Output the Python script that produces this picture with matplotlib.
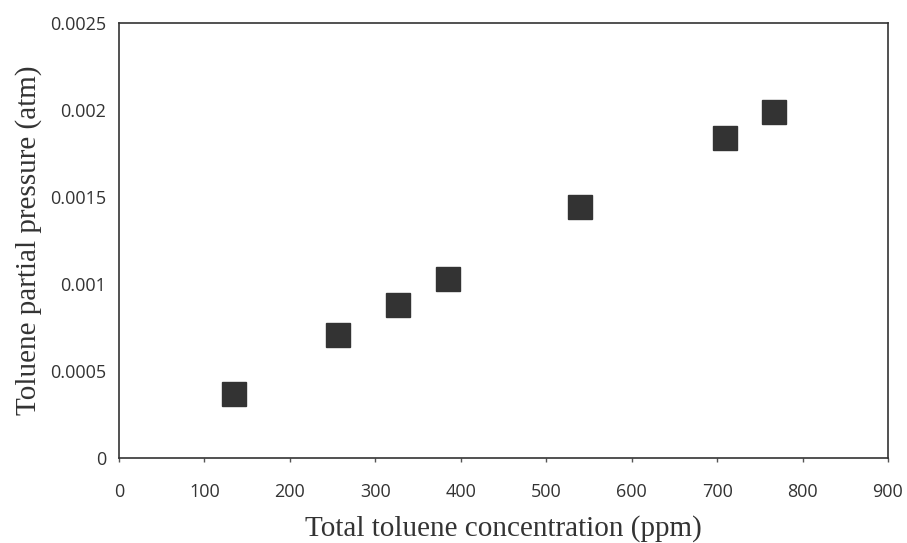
import matplotlib
matplotlib.use("Agg")
import matplotlib.pyplot as plt
from matplotlib.ticker import FixedLocator

concentration_ppm = [135, 256, 327, 385, 539, 709, 767]
partial_pressure_atm = [0.000368, 0.000706, 0.000879, 0.001027, 0.001442, 0.001838, 0.001987]
x_ticks = [0, 100, 200, 300, 400, 500, 600, 700, 800, 900]
y_ticks = [0, 0.0005, 0.001, 0.0015, 0.002, 0.0025]
y_tick_labels = ["0", "0.0005", "0.001", "0.0015", "0.002", "0.0025"]

fig = plt.figure(figsize=(9.07, 5.43), dpi=100)
ax = fig.add_axes([0.1312, 0.157, 0.979 - 0.1312, 0.9576 - 0.157])

ax.plot(concentration_ppm, partial_pressure_atm, linestyle="none", marker="s",
        markersize=17, color="#333333", markeredgecolor="#333333")

ax.set_xlim(0, 900)
ax.set_ylim(0, 0.0025)
ax.xaxis.set_major_locator(FixedLocator(x_ticks))
ax.set_xticklabels([str(t) for t in x_ticks])
ax.yaxis.set_major_locator(FixedLocator(y_ticks))
ax.set_yticklabels(y_tick_labels)

for sp in ax.spines.values():
    sp.set_color("#333333")
    sp.set_linewidth(1.2)

ax.tick_params(axis="x", direction="out", length=3, width=1, color="#555555",
               labelsize=13, labelcolor="#333333", pad=15)
ax.tick_params(axis="y", length=0, labelsize=13, labelcolor="#333333", pad=9)
for lab in ax.get_xticklabels() + ax.get_yticklabels():
    lab.set_family("Open Sans")

ax.set_xlabel("Total toluene concentration (ppm)", family="Liberation Serif",
              fontsize=21, color="#333333", labelpad=10)
ax.set_ylabel("Toluene partial pressure (atm)", family="Liberation Serif",
              fontsize=21, color="#333333", labelpad=6)

fig.savefig("out.png", dpi=100)
